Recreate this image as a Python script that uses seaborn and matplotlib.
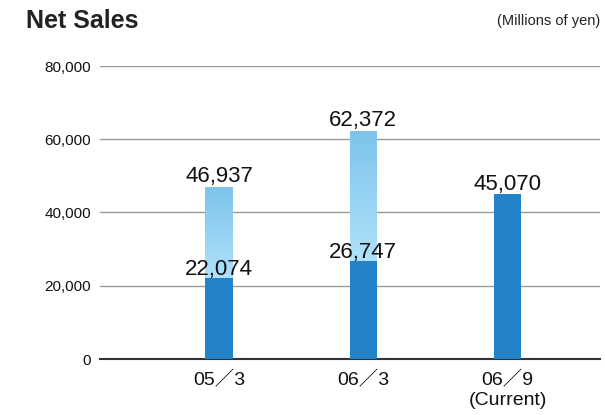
import numpy as np
import pandas as pd
import seaborn as sns
import matplotlib.pyplot as plt
from matplotlib.colors import to_rgb

# data (millions of yen)
periods = ["05／3", "06／3", "06／9\n(Current)"]
full_year = [46937, 62372, np.nan]
first_half = [22074, 26747, 45070]
yticks = [0, 20000, 40000, 60000, 80000]

sns.set_style("white")
plt.rcParams['font.family'] = ['Liberation Sans', 'Noto Sans CJK JP', 'DejaVu Sans']
plt.rcParams['text.color'] = '#111111'

df = pd.DataFrame({"period": periods, "full": full_year, "half": first_half})

fig = plt.figure(figsize=(6.05, 4.15), dpi=100)
ax = fig.add_axes([100 / 605, 56 / 415, 500 / 605, 293 / 415])

sns.barplot(data=df, x="period", y="full", color="#9fd8f5", width=0.19,
            saturation=1, linewidth=0, ax=ax, zorder=2)
n_full = len(ax.patches)
sns.barplot(data=df, x="period", y="half", color="#2383c8", width=0.19,
            saturation=1, linewidth=0, ax=ax, zorder=3)

# gradient on the visible (upper) part of the full-year bars:
# darker at top, lighter at the bottom, drawn as thin stacked slices
top_c = np.array(to_rgb("#7cc3ea"))
bot_c = np.array(to_rgb("#afe1fa"))
n_slices = 80
for p, lo in zip(ax.patches[:n_full], first_half):
    h = p.get_height()
    if not np.isfinite(h) or h == 0:
        continue
    x0, w = p.get_x(), p.get_width()
    edges = np.linspace(lo, h, n_slices + 1)
    for k in range(n_slices):
        f = (k + 0.5) / n_slices
        c = bot_c * (1 - f) + top_c * f
        ax.bar(x0, edges[k + 1] - edges[k], bottom=edges[k], width=w, align="edge",
               color=c, linewidth=0, zorder=2.5)

# value labels
for i, v in enumerate(full_year):
    if np.isfinite(v):
        ax.annotate(f"{v:,.0f}", (i, v), xytext=(0, 3.5), textcoords="offset points",
                    ha="center", va="baseline", fontsize=16, color="#111111")
for i, v in enumerate(first_half):
    ax.annotate(f"{v:,.0f}", (i, v), xytext=(0, 2.5), textcoords="offset points",
                ha="center", va="baseline", fontsize=16, color="#111111", zorder=5)

ax.set_xlim(-0.824, 2.64)
ax.set_ylim(0, 80000)
ax.set_yticks(yticks)
ax.set_yticklabels([f"{t:,}" for t in yticks], fontsize=11)
ax.tick_params(axis="x", labelsize=14, length=0, pad=8.5, colors="#111111")
ax.tick_params(axis="y", length=0, pad=6.5, colors="#111111")
ax.set_xlabel("")
ax.set_ylabel("")
ax.grid(axis="y", color="#999999", linewidth=1)
ax.set_axisbelow(True)
for s in ["top", "right", "left"]:
    ax.spines[s].set_visible(False)
ax.spines["bottom"].set_color("#333333")
ax.spines["bottom"].set_linewidth(1.5)

fig.text(26 / 605, 387 / 415, "Net Sales", fontsize=18, fontweight="bold",
         color="#222222", va="baseline")
fig.text(600 / 605, 390 / 415, "(Millions of yen)", fontsize=10.5, ha="right",
         va="baseline", color="#222222")

fig.savefig("out.png", dpi=100)
